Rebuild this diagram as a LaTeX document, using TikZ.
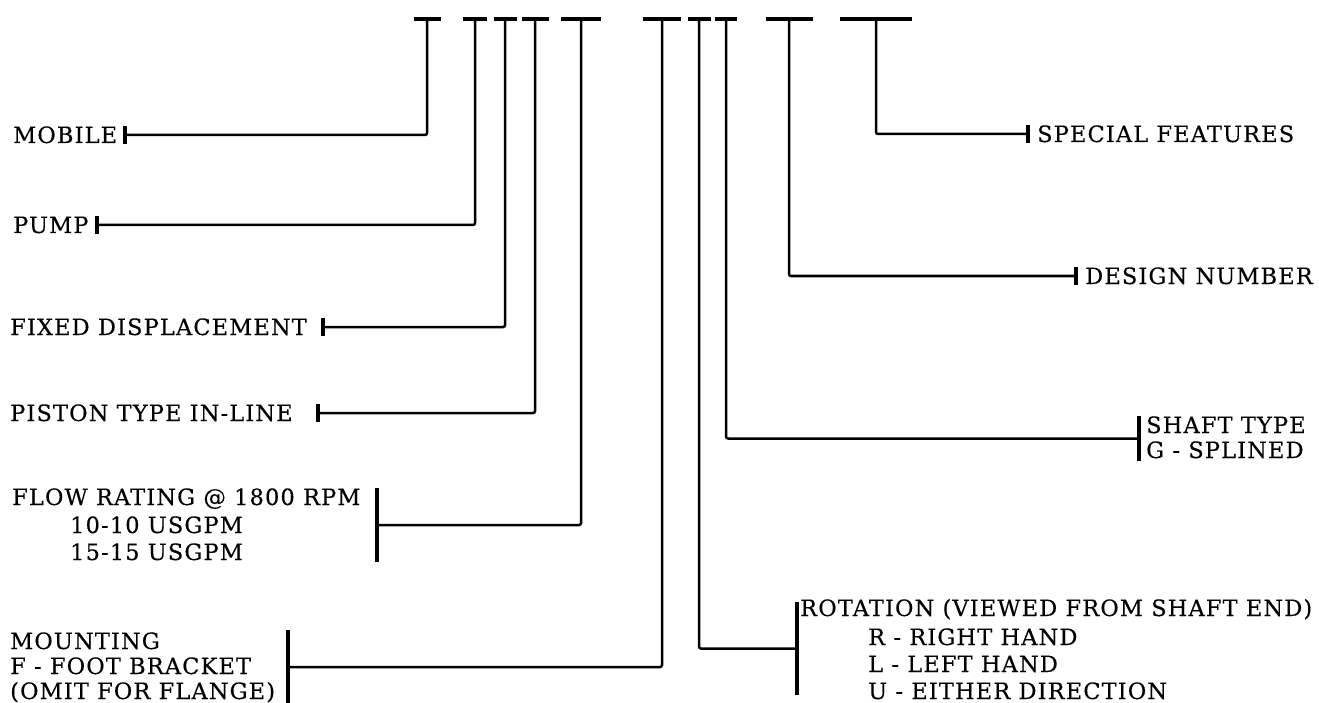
\documentclass[tikz,border=0pt]{standalone}
\usepackage{fontspec}
\setmainfont[LetterSpace=5,FakeBold=0.3]{DejaVu Serif}
\begin{document}
\begin{tikzpicture}[x=1pt,y=-1pt,
  conn/.style={line width=2.5pt, rounded corners=2pt},
  tbar/.style={fill=black, inner sep=0pt, minimum height=3.5pt},
  tick/.style={fill=black, inner sep=0pt, minimum width=3.5pt},
  lbl/.style={anchor=base west, inner sep=0pt, font=\fontsize{22.5}{27}\selectfont}]
\useasboundingbox (0,0) rectangle (1319,703);
% top code bars
\node[tbar, minimum width=27pt] (t1) at (427,19) {};
\node[tbar, minimum width=24pt] (t2) at (475,19) {};
\node[tbar, minimum width=23pt] (t3) at (505,19) {};
\node[tbar, minimum width=27pt] (t4) at (535,19) {};
\node[tbar, minimum width=40pt] (t5) at (581,19) {};
\node[tbar, minimum width=38pt] (t6) at (662,19) {};
\node[tbar, minimum width=23pt] (t7) at (699,19) {};
\node[tbar, minimum width=22pt] (t8) at (726,19) {};
\node[tbar, minimum width=47pt] (t9) at (789,19) {};
\node[tbar, minimum width=72pt] (t10) at (876,19) {};
% ticks / brackets
\node[tick, minimum height=18pt] (k1) at (125,135) {};
\node[tick, minimum height=18pt] (k2) at (97,225) {};
\node[tick, minimum height=18pt] (k3) at (323,327) {};
\node[tick, minimum height=18pt] (k4) at (318,413) {};
\node[tick, minimum height=74pt] (k5) at (377,525) {};
\node[tick, minimum height=74pt] (k6) at (288,667) {};
\node[tick, minimum height=93pt] (k7) at (797,648.5) {};
\node[tick, minimum height=45pt] (k8) at (1139,438.5) {};
\node[tick, minimum height=18pt] (k9) at (1076,276) {};
\node[tick, minimum height=18pt] (k10) at (1028,134) {};
% labels
\node[lbl] (mobile) at (13,143) {MOBILE};
\node[lbl] (pump) at (13,233) {PUMP};
\node[lbl] (fixed) at (10,335) {FIXED DISPLACEMENT};
\node[lbl] (piston) at (10,421) {PISTON TYPE IN-LINE};
\node[lbl] (flowa) at (12,505) {FLOW RATING @ 1800 RPM};
\node[lbl] (flowb) at (70,533) {10-10 USGPM};
\node[lbl] (flowc) at (70,560) {15-15 USGPM};
\node[lbl] (mounta) at (10,649) {MOUNTING};
\node[lbl] (mountb) at (10,674) {F - FOOT BRACKET};
\node[lbl] (mountc) at (10,699) {(OMIT FOR FLANGE)};
\node[lbl] (rota) at (800,616) {ROTATION (VIEWED FROM SHAFT END)};
\node[lbl] (rotb) at (868,645) {R - RIGHT HAND};
\node[lbl] (rotc) at (868,672) {L - LEFT HAND};
\node[lbl] (rotd) at (868,699) {U - EITHER DIRECTION};
\node[lbl] (shafta) at (1146,433) {SHAFT TYPE};
\node[lbl] (shaftb) at (1146,458) {G - SPLINED};
\node[lbl] (design) at (1085,284) {DESIGN NUMBER};
\node[lbl] (special) at (1037,142) {SPECIAL FEATURES};
% connectors
\draw[conn] (t1) |- (k1);
\draw[conn] (t2) |- (k2);
\draw[conn] (t3) |- (k3);
\draw[conn] (t4) |- (k4);
\draw[conn] (t5) |- (k5);
\draw[conn] (t6) |- (k6);
\draw[conn] (t7) |- (k7);
\draw[conn] (t8) |- (k8);
\draw[conn] (t9) |- (k9);
\draw[conn] (t10) |- (k10);
\end{tikzpicture}
\end{document}
